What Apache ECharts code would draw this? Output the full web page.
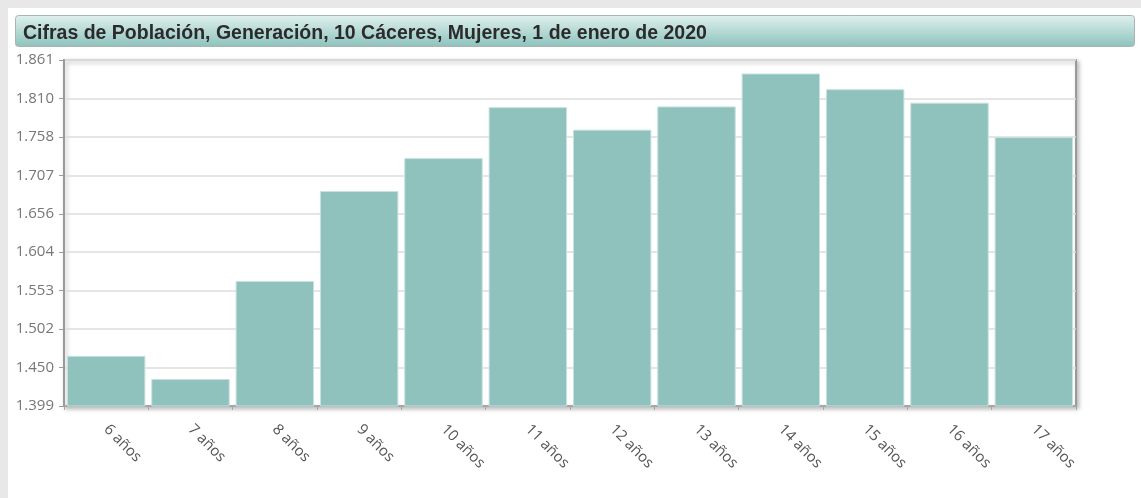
<!DOCTYPE html>
<html>
<head>
<meta charset="utf-8">
<script src="https://cdn.jsdelivr.net/npm/echarts@6/dist/echarts.min.js"></script>
<style>
  html, body { margin: 0; padding: 0; background: #e9e8e8; }
  #chart { width: 1141px; height: 498px; }
</style>
</head>
<body>
<div id="chart"></div>
<script>
var titleText = 'Cifras de Población, Generación, 10 Cáceres, Mujeres, 1 de enero de 2020';
var categories = ['6 años', '7 años', '8 años', '9 años', '10 años', '11 años',
                  '12 años', '13 años', '14 años', '15 años', '16 años', '17 años'];
var mujeres = [1466, 1435, 1566, 1686, 1730, 1798, 1768, 1799, 1843, 1822, 1804, 1758];
var yMin = 1399;
var yMax = 1861;

var myChart = echarts.init(document.getElementById('chart'));

function miles(v) {
  var n = Math.round(v);
  return String(n).replace(/\B(?=(\d{3})+(?!\d))/g, '.');
}

var option = {
  animation: false,
  backgroundColor: '#e9e8e8',
  graphic: [
    {
      type: 'rect', z: -10,
      shape: { x: 8, y: 8, width: 1133, height: 490 },
      style: { fill: '#fff' }
    },
    {
      type: 'rect', z: -5,
      shape: { x: 15.5, y: 15.5, width: 1119, height: 31, r: 3 },
      style: {
        fill: new echarts.graphic.LinearGradient(0, 0, 0, 1, [
          { offset: 0, color: '#e0f1ee' },
          { offset: 1, color: '#8dc2bd' }
        ]),
        stroke: '#a9b5b3',
        lineWidth: 1
      }
    }
  ],
  title: {
    text: titleText,
    left: 18,
    top: 19,
    textStyle: {
      fontFamily: 'Liberation Sans',
      fontWeight: 'bold',
      fontSize: 19.5,
      color: '#2b2b2b'
    }
  },
  grid: {
    left: 64,
    right: 65,
    top: 60,
    bottom: 92,
    show: true,
    backgroundColor: '#fff',
    borderColor: '#9a9a9a',
    borderWidth: 2,
    shadowColor: 'rgba(0,0,0,0.25)',
    shadowBlur: 4,
    shadowOffsetX: 2,
    shadowOffsetY: 2
  },
  xAxis: {
    type: 'category',
    data: categories,
    axisLine: { lineStyle: { color: '#a6a6a6', width: 2 } },
    axisTick: { show: true, length: 4, lineStyle: { color: '#a6a6a6' } },
    axisLabel: {
      rotate: -45,
      margin: 21,
      color: '#555',
      fontFamily: 'Open Sans',
      fontSize: 15
    }
  },
  yAxis: {
    type: 'value',
    min: yMin,
    max: yMax,
    interval: (yMax - yMin) / 9,
    axisLine: { show: true, lineStyle: { color: '#9a9a9a', width: 2 } },
    axisTick: { show: true, length: 5, lineStyle: { color: '#9a9a9a' } },
    splitLine: { lineStyle: { color: '#dcdcdc', width: 1.5 } },
    axisLabel: {
      margin: 10,
      color: '#777',
      fontFamily: 'Open Sans',
      fontSize: 15,
      formatter: miles
    }
  },
  series: [{
    type: 'bar',
    data: mujeres,
    barCategoryGap: '7%',
    itemStyle: {
      color: '#8fc1bd',
      borderColor: '#c6e2df',
      borderWidth: 1
    }
  }]
};
myChart.setOption(option);
</script>
</body>
</html>
